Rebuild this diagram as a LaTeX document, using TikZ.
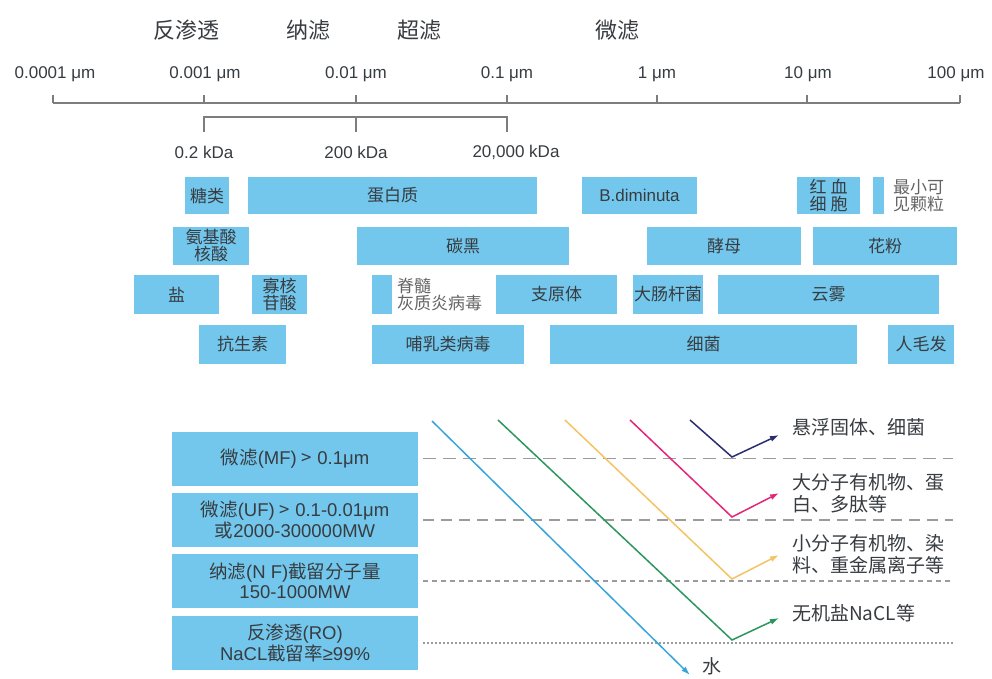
\documentclass[tikz,border=0pt]{standalone}
\usepackage{fontspec}
\setmainfont{Liberation Sans}
\newfontfamily\cjk{Noto Sans CJK SC}
\usetikzlibrary{arrows.meta}
\definecolor{boxc}{RGB}{115,199,236}
\definecolor{txt}{RGB}{55,60,65}
\definecolor{graytxt}{RGB}{100,100,100}
\definecolor{axisc}{RGB}{125,125,125}
\definecolor{dashc}{RGB}{155,155,155}
\definecolor{ablue}{RGB}{55,165,218}
\definecolor{agreen}{RGB}{45,150,95}
\definecolor{ayellow}{RGB}{245,195,100}
\definecolor{apink}{RGB}{228,38,120}
\definecolor{anavy}{RGB}{42,46,112}
\newcommand\zh[1]{{\cjk #1}}
\tikzset{
  rbox/.style={fill=boxc, draw=none, inner sep=0pt, text=txt, align=center,
    font=\cjk\fontsize{17}{17}\selectfont},
  lbox/.style={fill=boxc, draw=none, inner sep=0pt, text=txt, align=center,
    font=\fontsize{18.5}{20.5}\selectfont, minimum width=246pt, minimum height=54pt},
  sidetxt/.style={text=graytxt, align=left, anchor=west, inner sep=0pt,
    font=\cjk\fontsize{17}{17}\selectfont},
  axlab/.style={text=txt, inner sep=0pt, font=\fontsize{17}{18}\selectfont},
  toplab/.style={text=txt, inner sep=0pt, font=\cjk\fontsize{22}{24}\selectfont},
  rlab/.style={text=txt, inner sep=0pt, anchor=west, align=left,
    font=\cjk\fontsize{19}{22}\selectfont},
  axisline/.style={draw=axisc, line width=1.2pt},
  sep1/.style={draw=dashc, line width=1.5pt, dash pattern=on 13pt off 7pt},
  sep2/.style={draw=dashc, line width=1.5pt, dash pattern=on 11pt off 7pt},
  sep3/.style={draw=dashc, line width=1.3pt, dash pattern=on 5pt off 4pt},
  sep4/.style={draw=dashc, line width=1.3pt, dash pattern=on 1.6pt off 2.4pt},
  flow/.style={line width=1.5pt, -{Latex[length=9pt,width=6pt]}},
}
\newcommand\rbox[6]{\node[rbox, minimum width={(#4-#2)*1pt}, minimum height={(#5-#3)*1pt}] (#1) at ({(#2+#4)/2},{(#3+#5)/2}) {#6};}
\begin{document}
\begin{tikzpicture}[x=1pt,y=-1pt]
\useasboundingbox (0,0) rectangle (992,678);
\fill[white] (0,0) rectangle (992,678);

% top labels
\node[toplab] (ro) at (186,30) {反渗透};
\node[toplab] (nf) at (308,30) {纳滤};
\node[toplab] (uf) at (419,30) {超滤};
\node[toplab] (mf) at (617,30) {微滤};

% main axis
\coordinate (t0) at (53,103);
\coordinate (t1) at (204,103);
\coordinate (t2) at (356,103);
\coordinate (t3) at (507,103);
\coordinate (t4) at (657,103);
\coordinate (t5) at (807,103);
\coordinate (t6) at (960,103);
\draw[axisline] (t0) -- (t6);
\foreach \t in {t0,t1,t2,t3,t4,t5,t6} \draw[axisline] (\t) -- ++(0,-8);
\node[axlab] (l0) at (55,74) {0.0001 μm};
\node[axlab] (l1) at (205,74) {0.001 μm};
\node[axlab] (l2) at (356,74) {0.01 μm};
\node[axlab] (l3) at (507,74) {0.1 μm};
\node[axlab] (l4) at (657,74) {1 μm};
\node[axlab] (l5) at (808,74) {10 μm};
\node[axlab] (l6) at (956,74) {100 μm};

% kDa bracket
\coordinate (k1) at (204,117);
\coordinate (k2) at (356,117);
\coordinate (k3) at (507,117);
\draw[axisline] ([yshift=-15pt]k1) -- (k1) -- (k3) -- ([yshift=-15pt]k3);
\draw[axisline] (k2) -- ([yshift=-15pt]k2);
\node[axlab] (d1) at (204,152) {0.2 kDa};
\node[axlab] (d2) at (356,152) {200 kDa};
\node[axlab] (d3) at (516,152) {20,000 kDa};

% row 1
\rbox{tl}{185}{177}{229}{214}{糖类}
\rbox{dbz}{248}{177}{537}{214}{蛋白质}
\rbox{bdm}{582}{177}{697}{214}{\fontspec{Liberation Sans}B.diminuta}
\rbox{hxb}{797}{177}{860}{214}{红\hspace{4pt}血\\细\hspace{4pt}胞}
\rbox{zxbar}{873}{177}{884}{214}{}
\node[sidetxt] (zx) at (893,196) {最小可\\见颗粒};
% row 2
\rbox{ajs}{173}{227}{249}{265}{氨基酸\\核酸}
\rbox{th}{357}{227}{569}{265}{碳黑}
\rbox{jm}{647}{227}{801}{265}{酵母}
\rbox{hf}{813}{227}{957}{265}{花粉}
% row 3
\rbox{yan}{134}{275}{219}{314}{盐}
\rbox{ghg}{252}{275}{307}{314}{寡核\\苷酸}
\rbox{jsbar}{372}{275}{392}{314}{}
\node[sidetxt] (js) at (397,295) {脊髓\\灰质炎病毒};
\rbox{zyt}{496}{275}{617}{314}{支原体}
\rbox{dcg}{633}{275}{703}{314}{大肠杆菌}
\rbox{yw}{718}{275}{939}{314}{云雾}
% row 4
\rbox{kss}{199}{325}{286}{364}{抗生素}
\rbox{brl}{372}{325}{524}{364}{哺乳类病毒}
\rbox{xj}{550}{325}{857}{364}{细菌}
\rbox{rmf}{888}{325}{954}{364}{人毛发}

% lower boxes
\node[lbox] (b1) at (295,458.5) {\zh{微滤}(MF) \zh{>} 0.1μm};
\node[lbox] (b2) at (295,520) {\zh{微滤}(UF) \zh{>} 0.1-0.01μm\\\zh{或}2000-300000MW};
\node[lbox] (b3) at (295,581) {\zh{纳滤}(N F)\zh{截留分子量}\\150-1000MW};
\node[lbox] (b4) at (295,643) {\zh{反渗透}(RO)\\NaCL\zh{截留率}≥99\%};

% separator lines
\draw[sep1] ([xshift=5pt]b1.east) -- ++(530,0);
\draw[sep2] ([xshift=5pt]b2.east) -- ++(530,0);
\draw[sep3] ([xshift=5pt]b3.east) -- ++(530,0);
\draw[sep4] ([xshift=5pt]b4.east) -- ++(530,0);

% flows
\coordinate (w0) at (432,421);
\coordinate (w1) at (690,675);
\draw[flow, ablue] (w0) -- (w1);
\coordinate (g0) at (498,420);
\coordinate (g1) at (732,640);
\coordinate (g2) at (779,618);
\draw[flow, agreen] (g0) -- (g1) -- (g2);
\coordinate (y0) at (565,420);
\coordinate (y1) at (732,579);
\coordinate (y2) at (779,555);
\draw[flow, ayellow] (y0) -- (y1) -- (y2);
\coordinate (p0) at (630,420);
\coordinate (p1) at (732,517);
\coordinate (p2) at (779,493);
\draw[flow, apink] (p0) -- (p1) -- (p2);
\coordinate (n0) at (690,420);
\coordinate (n1) at (732,457);
\coordinate (n2) at (779,435);
\draw[flow, anavy] (n0) -- (n1) -- (n2);

% right labels
\node[rlab] (r1) at (792,427) {悬浮固体、细菌};
\node[rlab] (r2) at (792,493) {大分子有机物、蛋\\白、多肽等};
\node[rlab] (r3) at (792,554) {小分子有机物、染\\料、重金属离子等};
\node[rlab] (r4) at (792,613) {无机盐NaCL等};
\node[rlab] (r5) at (702,666) {水};
\end{tikzpicture}
\end{document}
